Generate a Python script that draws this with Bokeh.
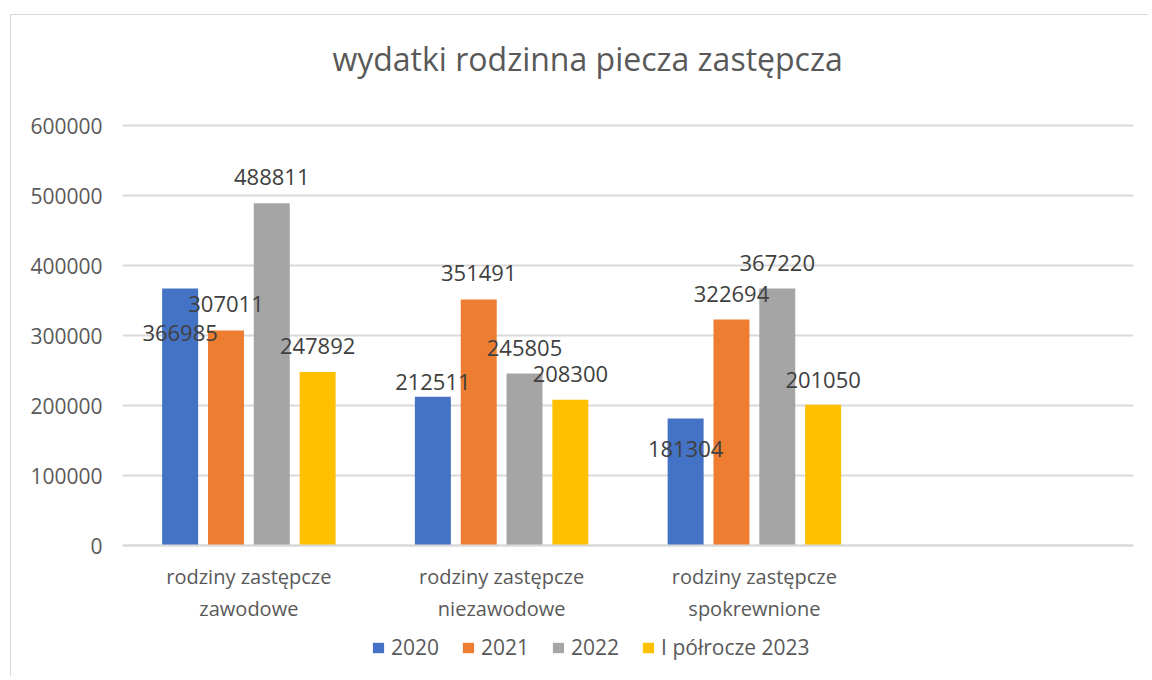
from bokeh.plotting import figure
from bokeh.models import (Range1d, FactorRange, ColumnDataSource, LabelSet, Legend,
                          LegendItem, NumeralTickFormatter, FixedTicker, Label)
from bokeh.transform import dodge
from bokeh.core.properties import value
from bokeh.embed import file_html
from bokeh.resources import INLINE

# ---- data ----
title_text = "wydatki rodzinna piecza zastępcza"
categories = ["rodziny zastępcze\nzawodowe",
              "rodziny zastępcze\nniezawodowe",
              "rodziny zastępcze\nspokrewnione"]
series = ["2020", "2021", "2022", "I półrocze 2023"]
v2020 = [366985, 212511, 181304]
v2021 = [307011, 351491, 322694]
v2022 = [488811, 245805, 367220]
v2023 = [247892, 208300, 201050]
y_ticks = [0, 100000, 200000, 300000, 400000, 500000, 600000]
y_max = 600000

# ---- styles / layout ----
colors = ["#4472C4", "#ED7D31", "#A5A5A5", "#FFC000"]
offsets = [-0.272, -0.0906, 0.0906, 0.272]
bar_w = 0.1424
label_dy = [[-44, 15, -30], [27, 26, 26], [26, 25, 25], [26, 26, 25]]
FONT = "Open Sans"
W, H = 1138, 662
PLOT_H = 420          # px between 0 and y_max
TOP_PAD = 110         # px above y_max gridline (title area)
BOTTOM_PAD = H - TOP_PAD - PLOT_H   # px below the 0 line (labels + legend)
per_px = y_max / PLOT_H

factors = categories + [" "]
values = [v2020, v2021, v2022, v2023]

p = figure(x_range=FactorRange(*factors, range_padding=0),
           y_range=Range1d(-BOTTOM_PAD * per_px, y_max + TOP_PAD * per_px),
           width=W, height=H,
           output_backend="svg", toolbar_location=None,
           min_border_left=111, min_border_right=16,
           min_border_top=0, min_border_bottom=0)
p.margin = (14, 0, 0, 10)
p.styles = {"border-left": "1px solid #d9d9d9", "border-top": "1px solid #d9d9d9"}
p.outline_line_color = None
p.background_fill_color = "white"
p.border_fill_color = "white"
p.title.visible = False

items = []
for i, s in enumerate(series):
    src = ColumnDataSource(dict(cat=categories, val=values[i],
                                txt=[str(v) for v in values[i]],
                                dy=label_dy[i]))
    r = p.vbar(x=dodge("cat", offsets[i], range=p.x_range), top="val", width=bar_w,
               source=src, fill_color=colors[i], line_color=None)
    items.append(LegendItem(label=s, renderers=[r]))
    lbl = LabelSet(x=dodge("cat", offsets[i], range=p.x_range), y="val", text="txt",
                   y_offset="dy", source=src, text_align="center",
                   text_baseline="middle", text_font=value(FONT),
                   text_font_size="22px", text_color="#404040")
    p.add_layout(lbl)

# axes
p.yaxis.ticker = FixedTicker(ticks=y_ticks)
p.yaxis.formatter = NumeralTickFormatter(format="0")
p.yaxis.axis_line_color = None
p.yaxis.major_tick_line_color = None
p.yaxis.minor_tick_line_color = None
p.yaxis.major_tick_out = 0
p.yaxis.major_label_standoff = 20
p.yaxis.major_label_text_font = FONT
p.yaxis.major_label_text_font_size = "21px"
p.yaxis.major_label_text_color = "#595959"

p.xaxis.fixed_location = 0
p.xaxis.axis_line_color = "#d9d9d9"
p.xaxis.axis_line_width = 2
p.xaxis.major_tick_line_color = None
p.xaxis.minor_tick_line_color = None
p.xaxis.major_tick_out = 0
p.xaxis.major_label_standoff = 17
p.xaxis.major_label_text_font = FONT
p.xaxis.major_label_text_font_size = "20px"
p.xaxis.major_label_text_color = "#595959"

p.xgrid.grid_line_color = None
p.ygrid.grid_line_color = "#d9d9d9"
p.ygrid.grid_line_width = 2

# chart title
p.add_layout(Label(x=1.84, y=y_max, y_offset=67, text=title_text,
                   text_align="center", text_baseline="middle",
                   text_font=FONT, text_font_size="32px", text_color="#595959"))

legend = Legend(items=items, orientation="horizontal", location=(249, 16),
                border_line_color=None, background_fill_alpha=0,
                padding=0, margin=0, spacing=22, label_standoff=6,
                glyph_width=14, glyph_height=13,
                label_text_font=FONT, label_text_font_size="21px",
                label_text_color="#595959")
p.add_layout(legend)

open("out.html", "w").write(file_html(p, INLINE))
